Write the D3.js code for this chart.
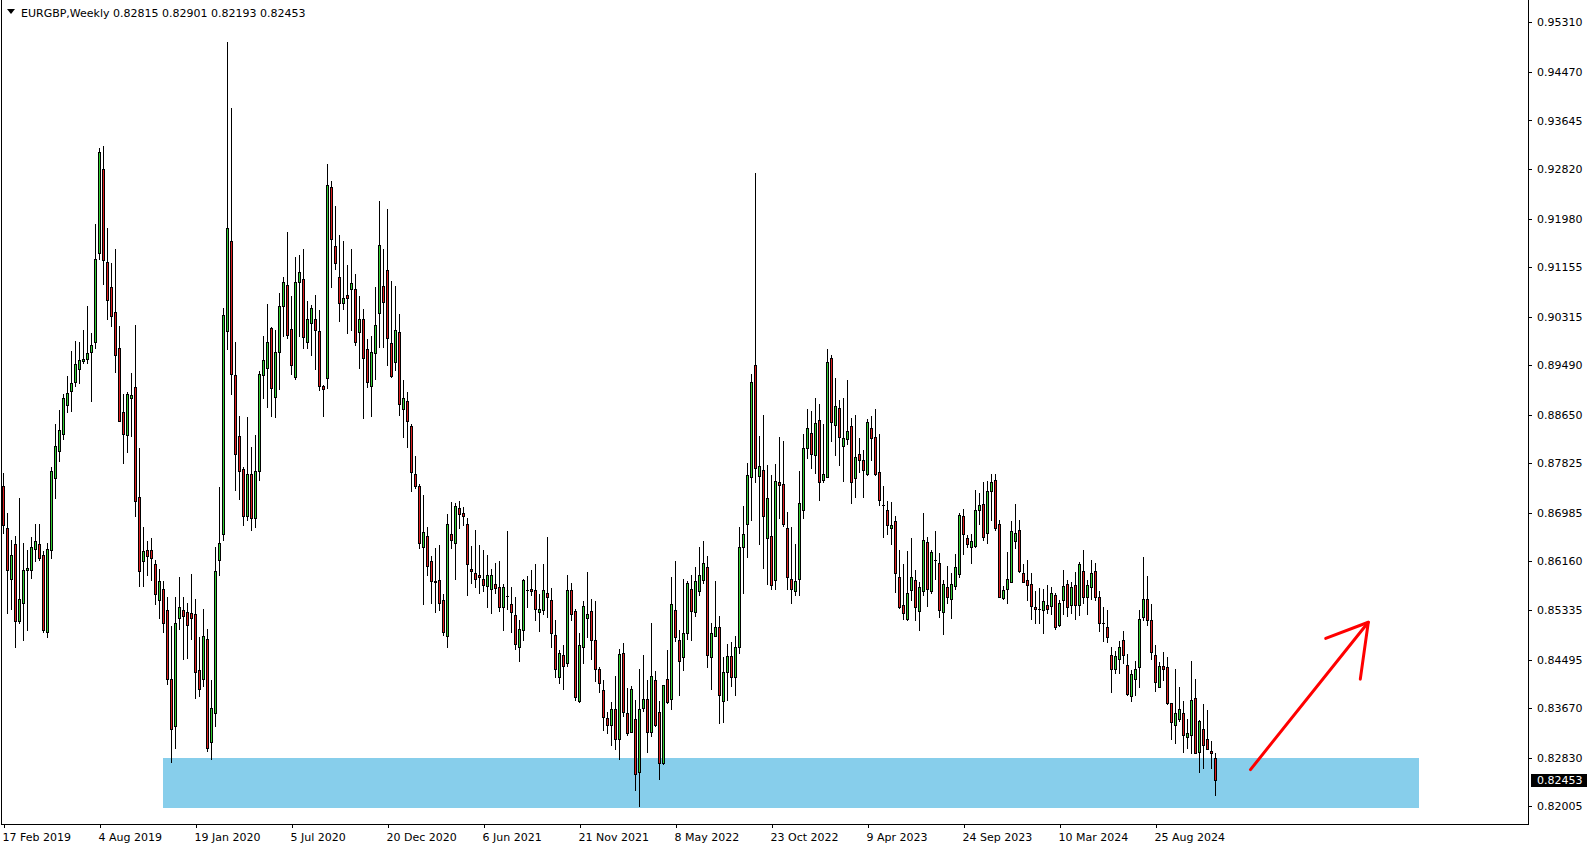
<!DOCTYPE html>
<html><head><meta charset="utf-8">
<script src="https://cdn.jsdelivr.net/npm/d3@7"></script>
<style>
html,body{margin:0;padding:0;background:#fff;overflow:hidden}
svg{display:block}
text{font-family:"DejaVu Sans",sans-serif;font-size:11px;fill:#000}
</style></head><body>
<svg id="chart" width="1594" height="850"></svg>
<script>
// ---------------- data ----------------
const symbolTitle = "EURGBP,Weekly";
const open = [
0.8744,0.8672,0.8586,0.8645,0.8515,0.8545,0.8601,0.8601,0.8637,0.8645,
0.8627,0.8496,0.8636,0.8758,0.8804,0.8833,0.8882,0.8905,0.8920,0.8942,
0.8957,0.8959,0.8971,0.8988,0.9139,0.9282,0.9124,0.9081,0.9040,0.8979,
0.8869,0.8831,0.8894,0.8912,0.8725,0.8617,0.8635,0.8635,0.8611,0.8550,
0.8570,0.8533,0.8416,0.8337,0.8520,0.8533,0.8531,0.8528,0.8527,0.8432,
0.8416,0.8484,0.8310,0.8359,0.8619,0.8662,0.9008,0.9160,0.8933,0.8829,
0.8773,0.8693,0.8765,0.8690,0.8770,0.8933,0.8944,0.9012,0.8895,0.8972,
0.9050,0.9085,0.9010,0.8929,0.9090,0.9096,0.8989,0.9020,0.9027,0.9007,
0.8913,0.8928,0.9251,0.9151,0.9098,0.9054,0.9068,0.9078,0.9078,0.9006,
0.9028,0.8976,0.8914,0.8970,0.9037,0.9083,0.9111,0.8986,0.8955,0.9005,
0.8874,0.8888,0.8846,0.8764,0.8744,0.8640,0.8659,0.8617,0.8582,0.8584,
0.8550,0.8489,0.8662,0.8648,0.8706,0.8699,0.8680,0.8603,0.8596,0.8593,
0.8587,0.8575,0.8570,0.8577,0.8572,0.8539,0.8558,0.8543,0.8525,0.8470,
0.8499,0.8568,0.8570,0.8568,0.8530,0.8533,0.8562,0.8550,0.8491,0.8419,
0.8457,0.8444,0.8568,0.8532,0.8379,0.8470,0.8520,0.8532,0.8482,0.8434,
0.8397,0.8350,0.8338,0.8365,0.8314,0.8461,0.8358,0.8327,0.8349,0.8258,
0.8368,0.8382,0.8327,0.8414,0.8360,0.8273,0.8416,0.8383,0.8533,0.8483,
0.8454,0.8495,0.8570,0.8530,0.8566,0.8585,0.8606,0.8454,0.8489,0.8505,
0.8379,0.8429,0.8455,0.8420,0.8470,0.8640,0.8679,0.8759,0.8949,0.8761,
0.8771,0.8655,0.8659,0.8585,0.8750,0.8748,0.8672,0.8587,0.8566,0.8587,
0.8703,0.8808,0.8834,0.8796,0.8856,0.8755,0.8759,0.8962,0.8847,0.8877,
0.8812,0.8823,0.8846,0.8757,0.8798,0.8788,0.8764,0.8843,0.8828,0.8768,
0.8712,0.8704,0.8672,0.8684,0.8589,0.8542,0.8519,0.8568,0.8585,0.8532,
0.8566,0.8649,0.8566,0.8618,0.8614,0.8530,0.8572,0.8553,0.8575,0.8595,
0.8693,0.8655,0.8641,0.8642,0.8704,0.8714,0.8665,0.8736,0.8754,0.8680,
0.8554,0.8570,0.8581,0.8651,0.8670,0.8596,0.8584,0.8578,0.8539,0.8536,
0.8533,0.8542,0.8540,0.8559,0.8508,0.8550,0.8577,0.8542,0.8576,0.8542,
0.8600,0.8555,0.8572,0.8600,0.8555,0.8511,0.8504,0.8458,0.8434,0.8450,
0.8483,0.8440,0.8388,0.8417,0.8436,0.8521,0.8553,0.8516,0.8457,0.8403,
0.8438,0.8436,0.8375,0.8338,0.8348,0.8359,0.8318,0.8322,0.8385,0.8292,
0.8331,0.8315,0.8294,0.82815];
const high = [
0.8766,0.8698,0.8652,0.8659,0.8723,0.8648,0.8636,0.8657,0.8680,0.8680,
0.8634,0.8648,0.8777,0.8849,0.8873,0.8900,0.8931,0.8974,0.8990,0.8989,
0.9009,0.9050,0.9003,0.9189,0.9317,0.9322,0.9182,0.9123,0.9146,0.9015,
0.8901,0.8903,0.8936,0.9017,0.8809,0.8675,0.8650,0.8656,0.8619,0.8603,
0.8582,0.8555,0.8507,0.8555,0.8590,0.8556,0.8545,0.8595,0.8553,0.8487,
0.8536,0.8502,0.8414,0.8641,0.8742,0.9047,0.9498,0.9386,0.8988,0.8863,
0.8777,0.8862,0.8810,0.8830,0.8940,0.8999,0.9053,0.9014,0.9009,0.9071,
0.9099,0.9175,0.9066,0.9132,0.9136,0.9146,0.9058,0.9051,0.9068,0.9043,
0.8916,0.9291,0.9262,0.9219,0.9170,0.9160,0.9119,0.9146,0.9104,0.9067,
0.9045,0.8993,0.8999,0.9082,0.9228,0.9147,0.9215,0.9092,0.9083,0.9036,
0.8924,0.8903,0.8850,0.8795,0.8747,0.8729,0.8675,0.8625,0.8639,0.8644,
0.8560,0.8696,0.8717,0.8716,0.8718,0.8709,0.8689,0.8642,0.8669,0.8644,
0.8635,0.8627,0.8603,0.8613,0.8616,0.8577,0.8667,0.8573,0.8556,0.8516,
0.8587,0.8591,0.8601,0.8611,0.8560,0.8611,0.8658,0.8571,0.8516,0.8466,
0.8474,0.8593,0.8579,0.8535,0.8494,0.8549,0.8598,0.8553,0.8549,0.8437,
0.8415,0.8361,0.8378,0.8422,0.8468,0.8477,0.8401,0.8405,0.8380,0.8433,
0.8457,0.8414,0.8512,0.8430,0.8379,0.8406,0.8465,0.8590,0.8617,0.8500,
0.8587,0.8583,0.8593,0.8607,0.8641,0.8650,0.8625,0.8512,0.8583,0.8523,
0.8453,0.8475,0.8480,0.8490,0.8675,0.8710,0.8783,0.8935,0.9276,0.8829,
0.8864,0.8779,0.8762,0.8782,0.8828,0.8820,0.8700,0.8675,0.8645,0.8770,
0.8832,0.8874,0.8871,0.8894,0.8884,0.8850,0.8976,0.8966,0.8927,0.8890,
0.8894,0.8924,0.8860,0.8864,0.8826,0.8805,0.8858,0.8863,0.8874,0.8833,
0.8744,0.8718,0.8717,0.8693,0.8635,0.8611,0.8633,0.8655,0.8602,0.8581,
0.8699,0.8658,0.8636,0.8667,0.8630,0.8584,0.8608,0.8597,0.8628,0.8698,
0.8705,0.8661,0.8662,0.8738,0.8733,0.8751,0.8753,0.8764,0.8764,0.8686,
0.8575,0.8632,0.8684,0.8713,0.8686,0.8612,0.8619,0.8597,0.8566,0.8571,
0.8570,0.8576,0.8573,0.8562,0.8550,0.8601,0.8585,0.8581,0.8598,0.8615,
0.8635,0.8584,0.8618,0.8614,0.8566,0.8539,0.8533,0.8471,0.8464,0.8481,
0.8498,0.8459,0.8431,0.8447,0.8533,0.8624,0.8591,0.8543,0.8474,0.8446,
0.8462,0.8453,0.8376,0.8433,0.8403,0.8379,0.8349,0.8447,0.8416,0.8347,
0.8374,0.8363,0.8311,0.82901];
const low = [
0.8664,0.8528,0.8535,0.8470,0.8511,0.8482,0.8500,0.8588,0.8617,0.8619,
0.8496,0.8488,0.8622,0.8723,0.8787,0.8823,0.8869,0.8871,0.8913,0.8919,
0.8952,0.8952,0.8889,0.8978,0.9129,0.9087,0.9027,0.9015,0.8938,0.8854,
0.8783,0.8801,0.8829,0.8693,0.8574,0.8574,0.8593,0.8584,0.8543,0.8520,
0.8497,0.8408,0.8275,0.8300,0.8502,0.8451,0.8452,0.8484,0.8384,0.8387,
0.8404,0.8294,0.8280,0.8336,0.8593,0.8653,0.8977,0.8901,0.8737,0.8722,
0.8678,0.8686,0.8670,0.8675,0.8755,0.8893,0.8878,0.8863,0.8862,0.8909,
0.8999,0.8995,0.8934,0.8925,0.8999,0.8979,0.8979,0.8967,0.8942,0.8907,
0.8863,0.8910,0.9081,0.9112,0.9024,0.9045,0.9004,0.9009,0.8983,0.8944,
0.8859,0.8912,0.8863,0.8926,0.8980,0.8980,0.8949,0.8929,0.8941,0.8864,
0.8828,0.8810,0.8736,0.8741,0.8638,0.8543,0.8593,0.8546,0.8530,0.8533,
0.8491,0.8470,0.8638,0.8587,0.8672,0.8678,0.8559,0.8580,0.8572,0.8563,
0.8566,0.8538,0.8528,0.8562,0.8532,0.8499,0.8536,0.8496,0.8468,0.8447,
0.8482,0.8539,0.8559,0.8517,0.8498,0.8526,0.8522,0.8471,0.8420,0.8409,
0.8400,0.8439,0.8517,0.8380,0.8377,0.8444,0.8488,0.8451,0.8413,0.8395,
0.8330,0.8324,0.8304,0.8298,0.8281,0.8353,0.8321,0.8326,0.8228,0.8200,
0.8362,0.8293,0.8319,0.8337,0.8247,0.8272,0.8375,0.8365,0.8481,0.8389,
0.8431,0.8485,0.8483,0.8523,0.8559,0.8579,0.8437,0.8400,0.8489,0.8342,
0.8344,0.8380,0.8405,0.8390,0.8460,0.8563,0.8623,0.8687,0.8750,0.8646,
0.8604,0.8577,0.8570,0.8570,0.8689,0.8676,0.8570,0.8545,0.8559,0.8559,
0.8689,0.8792,0.8774,0.8766,0.8720,0.8751,0.8759,0.8821,0.8796,0.8779,
0.8753,0.8816,0.8716,0.8726,0.8768,0.8726,0.8763,0.8789,0.8762,0.8712,
0.8658,0.8663,0.8645,0.8564,0.8537,0.8519,0.8516,0.8550,0.8517,0.8499,
0.8559,0.8540,0.8562,0.8587,0.8521,0.8492,0.8546,0.8520,0.8570,0.8590,
0.8628,0.8640,0.8613,0.8641,0.8679,0.8653,0.8648,0.8686,0.8669,0.8555,
0.8553,0.8546,0.8581,0.8639,0.8598,0.8581,0.8550,0.8519,0.8511,0.8511,
0.8495,0.8528,0.8527,0.8502,0.8506,0.8526,0.8524,0.8528,0.8519,0.8525,
0.8545,0.8526,0.8553,0.8551,0.8498,0.8481,0.8480,0.8395,0.8427,0.8426,
0.8443,0.8389,0.8379,0.8389,0.8402,0.8516,0.8508,0.8450,0.8396,0.8403,
0.8414,0.8374,0.8314,0.8308,0.8345,0.8293,0.8300,0.8290,0.8290,0.8258,
0.8266,0.8297,0.8266,0.82193];
const close = [
0.8677,0.8601,0.8627,0.8515,0.8552,0.8602,0.8605,0.8641,0.8651,0.8621,
0.8499,0.8637,0.8769,0.8812,0.8839,0.8893,0.8902,0.8919,0.8951,0.8958,
0.8959,0.8970,0.8983,0.9129,0.9311,0.9127,0.9060,0.9032,0.8966,0.8855,
0.8832,0.8900,0.8899,0.8719,0.8599,0.8633,0.8626,0.8621,0.8561,0.8582,
0.8512,0.8416,0.8332,0.8512,0.8539,0.8524,0.8508,0.8520,0.8428,0.8399,
0.8490,0.8299,0.8367,0.8599,0.8648,0.9035,0.9182,0.8935,0.8799,0.8769,
0.8693,0.8765,0.8690,0.8770,0.8934,0.8958,0.8988,0.8911,0.8972,0.9049,
0.9091,0.9001,0.8950,0.9090,0.9108,0.8997,0.9027,0.9047,0.9009,0.8914,
0.8909,0.9255,0.9164,0.9122,0.9054,0.9064,0.9064,0.9088,0.8989,0.9027,
0.8962,0.8920,0.8972,0.9018,0.9153,0.9057,0.8996,0.8931,0.9009,0.8884,
0.8893,0.8855,0.8768,0.8744,0.8648,0.8666,0.8608,0.8582,0.8581,0.8546,
0.8496,0.8679,0.8653,0.8710,0.8696,0.8693,0.8611,0.8600,0.8587,0.8590,
0.8576,0.8593,0.8593,0.8571,0.8539,0.8572,0.8558,0.8530,0.8475,0.8502,
0.8584,0.8568,0.8566,0.8536,0.8536,0.8567,0.8555,0.8495,0.8434,0.8460,
0.8439,0.8568,0.8526,0.8386,0.8474,0.8540,0.8526,0.8483,0.8434,0.8409,
0.8352,0.8339,0.8366,0.8314,0.8459,0.8361,0.8324,0.8399,0.8255,0.8366,
0.8382,0.8327,0.8421,0.8339,0.8273,0.8406,0.8378,0.8543,0.8487,0.8447,
0.8494,0.8579,0.8532,0.8583,0.8593,0.8613,0.8457,0.8495,0.8505,0.8390,
0.8429,0.8455,0.8420,0.8470,0.8641,0.8663,0.8762,0.8920,0.8774,0.8778,
0.8693,0.8723,0.8576,0.8752,0.8746,0.8679,0.8589,0.8570,0.8583,0.8716,
0.8808,0.8843,0.8799,0.8851,0.8751,0.8764,0.8954,0.8852,0.8879,0.8828,
0.8826,0.8837,0.8751,0.8793,0.8789,0.8772,0.8852,0.8826,0.8764,0.8720,
0.8711,0.8677,0.8677,0.8597,0.8539,0.8528,0.8563,0.8589,0.8538,0.8572,
0.8653,0.8570,0.8632,0.8618,0.8534,0.8578,0.8555,0.8578,0.8606,0.8694,
0.8662,0.8646,0.8650,0.8704,0.8712,0.8658,0.8736,0.8751,0.8672,0.8556,
0.8568,0.8587,0.8667,0.8665,0.8600,0.8581,0.8576,0.8541,0.8536,0.8535,
0.8549,0.8536,0.8563,0.8504,0.8546,0.8574,0.8539,0.8572,0.8542,0.8612,
0.8555,0.8576,0.8596,0.8555,0.8512,0.8511,0.8488,0.8433,0.8455,0.8470,
0.8457,0.8391,0.8425,0.8433,0.8518,0.8553,0.8516,0.8462,0.8412,0.8438,
0.8434,0.8376,0.8344,0.8358,0.8365,0.8321,0.8325,0.8380,0.8291,0.8345,
0.8305,0.8298,0.8290,0.82453];

const priceTicks = [0.95310,0.94470,0.93645,0.92820,0.91980,0.91155,0.90315,0.89490,
  0.88650,0.87825,0.86985,0.86160,0.85335,0.84495,0.83670,0.82830,0.82005];
const dateTickBars = [0,24,48,72,96,120,144,168,192,216,240,264,288];
const dateTickLabels = ["17 Feb 2019","4 Aug 2019","19 Jan 2020","5 Jul 2020","20 Dec 2020",
  "6 Jun 2021","21 Nov 2021","8 May 2022","23 Oct 2022","9 Apr 2023","24 Sep 2023",
  "10 Mar 2024","25 Aug 2024"];
const zoneBars = [40, 354];
const zonePrices = [0.8283, 0.8198];
const arrowShaft = [[311.75, 0.82626], [341.2, 0.85128]];
const arrowBarbs = [[330.55, 0.84853], [339.2, 0.84162]];

// ---------------- drawing ----------------
const W = 1594, H = 850;
const plotRight = 1528, plotBottom = 824;
const svg = d3.select("#chart");

const x = d3.scaleLinear().domain([0, 303]).range([3.5, 1215.5]);
const y = d3.scaleLinear().domain([0.82005, 0.95310]).range([806.2, 22.4]);

svg.append("rect").attr("width", W).attr("height", H).attr("fill", "#fff");

const plot = svg.append("g").attr("shape-rendering", "crispEdges");

// support zone
plot.append("rect")
  .attr("x", Math.round(x(zoneBars[0])))
  .attr("y", Math.round(y(zonePrices[0])))
  .attr("width", Math.round(x(zoneBars[1])) - Math.round(x(zoneBars[0])))
  .attr("height", Math.round(y(zonePrices[1])) - Math.round(y(zonePrices[0])))
  .attr("fill", "#87CEEB");

// candles
const bars = d3.range(open.length).map(i => ({i, o: open[i], h: high[i], l: low[i], c: close[i]}));
const cg = plot.append("g");
const candle = cg.selectAll("g.c").data(bars).join("g").attr("class", "c");
candle.append("rect")
  .attr("x", d => Math.floor(x(d.i)))
  .attr("width", 1)
  .attr("y", d => Math.round(y(d.h)))
  .attr("height", d => Math.max(1, Math.round(y(d.l)) - Math.round(y(d.h)) + 1))
  .attr("fill", "#000");
candle.append("rect")
  .attr("x", d => Math.floor(x(d.i)) - 1)
  .attr("width", 3)
  .attr("y", d => Math.round(y(Math.max(d.o, d.c))))
  .attr("height", d => Math.max(1, Math.round(y(Math.min(d.o, d.c))) - Math.round(y(Math.max(d.o, d.c))) + 1))
  .attr("fill", "#000");
candle.filter(d => Math.round(y(Math.min(d.o, d.c))) - Math.round(y(Math.max(d.o, d.c))) >= 2)
  .append("rect")
  .attr("x", d => Math.floor(x(d.i)))
  .attr("width", 1)
  .attr("y", d => Math.round(y(Math.max(d.o, d.c))) + 1)
  .attr("height", d => Math.round(y(Math.min(d.o, d.c))) - Math.round(y(Math.max(d.o, d.c))) - 1)
  .attr("fill", d => d.c >= d.o ? "#32CD32" : "#DC1E1E");

// arrow
const line = d3.line().x(d => x(d[0])).y(d => y(d[1]));
const arrowG = svg.append("g").attr("fill", "none").attr("stroke", "#FF0000")
  .attr("stroke-width", 3).attr("stroke-linecap", "round").attr("stroke-linejoin", "round");
arrowG.append("path").attr("d", line(arrowShaft));
arrowG.append("path").attr("d", line([arrowBarbs[0], arrowShaft[1], arrowBarbs[1]]));

// frame
const frame = svg.append("g").attr("shape-rendering", "crispEdges").attr("stroke", "#000").attr("stroke-width", 1);
frame.append("line").attr("x1", 1.5).attr("x2", 1.5).attr("y1", 0).attr("y2", plotBottom + 0.5);
frame.append("line").attr("x1", plotRight + 0.5).attr("x2", plotRight + 0.5).attr("y1", 0).attr("y2", plotBottom + 0.5);
frame.append("line").attr("x1", 1).attr("x2", plotRight + 1).attr("y1", plotBottom + 0.5).attr("y2", plotBottom + 0.5);

// price axis
const yAxis = d3.axisRight(y).tickValues(priceTicks).tickSize(4).tickPadding(5).tickFormat(d3.format(".5f"));
const ya = svg.append("g").attr("transform", `translate(${plotRight},0)`).call(yAxis);
ya.select(".domain").remove();
ya.selectAll("line").attr("stroke", "#000").attr("shape-rendering", "crispEdges");
ya.selectAll("text").attr("font-family", "DejaVu Sans").attr("font-size", 11).attr("fill", "#000");

// time axis
const xAxis = d3.axisBottom(x).tickValues(dateTickBars).tickSize(4).tickPadding(5)
  .tickFormat((d, k) => dateTickLabels[k]);
const xa = svg.append("g").attr("transform", `translate(0,${plotBottom})`).call(xAxis);
xa.select(".domain").remove();
xa.selectAll("line").attr("stroke", "#000").attr("shape-rendering", "crispEdges");
xa.selectAll("text").attr("text-anchor", "start").attr("dx", -1.5)
  .attr("font-family", "DejaVu Sans").attr("font-size", 11).attr("fill", "#000");

// last price label
const lastY = y(close[close.length - 1]);
svg.append("rect").attr("x", plotRight + 3).attr("y", Math.round(lastY) - 6).attr("width", 56).attr("height", 13)
  .attr("fill", "#000").attr("shape-rendering", "crispEdges");
svg.append("text").attr("x", plotRight + 9).attr("y", lastY).attr("dy", "0.35em")
  .attr("fill", "#fff").style("fill", "#fff").text(d3.format(".5f")(close[close.length - 1]));

// header
svg.append("path").attr("d", "M7,9 L15,9 L11,14 Z").attr("fill", "#000");
svg.append("text").attr("x", 21).attr("y", 16.5)
  .text(`${symbolTitle}  ${[open, high, low, close].map(a => d3.format(".5f")(a[a.length - 1])).join(" ")}`);
</script>
</body></html>
